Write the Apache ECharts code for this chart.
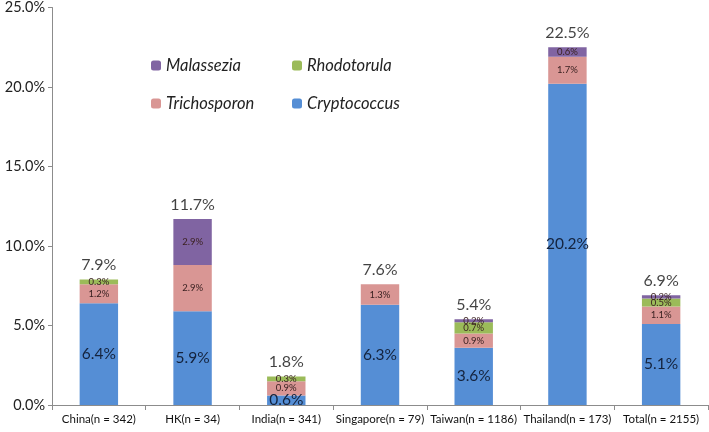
<!DOCTYPE html>
<html><head><meta charset="utf-8">
<script src="https://cdn.jsdelivr.net/npm/echarts@6/dist/echarts.min.js"></script>
<style>html,body{margin:0;padding:0;background:#fff}#c{width:709px;height:432px}</style>
</head><body><div id="c"></div>
<script>
const categories = ['China(n = 342)','HK(n = 34)','India(n = 341)','Singapore(n = 79)','Taiwan(n = 1186)','Thailand(n = 173)','Total(n = 2155)'];
const cryptococcus = [6.4, 5.9, 0.6, 6.3, 3.6, 20.2, 5.1];
const trichosporon = [1.2, 2.9, 0.9, 1.3, 0.9, 1.7, 1.1];
const rhodotorula = [0.3, 0, 0.3, 0, 0.7, 0, 0.5];
const malassezia = [0, 2.9, 0, 0, 0.2, 0.6, 0.2];
const totals = [7.9, 11.7, 1.8, 7.6, 5.4, 22.5, 6.9];
const yTicks = [0, 5, 10, 15, 20, 25];

const FONT = 'Lato';
const fmt = p => p.value ? p.value.toFixed(1) + '%' : '';
const chart = echarts.init(document.getElementById('c'));
function seg(name, data, color, big) {
  return {
    name, type: 'bar', stack: 's', data, barWidth: '41%',
    itemStyle: { color },
    label: { show: true, position: 'inside', formatter: fmt,
      fontFamily: FONT, fontSize: big ? 15.5 : 9.5,
      color: big ? '#14233d' : '#3b2222' }
  };
}
function leg(name, left, top) {
  return { data: [name], left, top, itemWidth: 10, itemHeight: 10, itemGap: 5,
    textStyle: { fontFamily: FONT, fontSize: 16.5, fontStyle: 'italic', color: '#222' } };
}
chart.setOption({
  animation: false,
  textStyle: { fontFamily: FONT },
  legend: [leg('Malassezia', 146, 52), leg('Rhodotorula', 287, 52), leg('Trichosporon', 146, 90), leg('Cryptococcus', 287, 90)],
  grid: { left: 52, right: 1, top: 5, bottom: 27, containLabel: false },
  xAxis: { type: 'category', data: categories,
    axisLine: { lineStyle: { color: '#8c8c8c' } },
    axisTick: { show: true, length: 5, lineStyle: { color: '#8c8c8c' } },
    axisLabel: { fontFamily: FONT, fontSize: 11.5, color: '#111', margin: 8, interval: 0 } },
  yAxis: { type: 'value', min: 0, max: 25, interval: 5,
    axisLine: { show: true, lineStyle: { color: '#8c8c8c' } },
    axisTick: { show: true, length: 4, lineStyle: { color: '#8c8c8c' } },
    splitLine: { show: false },
    axisLabel: { fontFamily: FONT, fontSize: 14.5, color: '#222', margin: 7,
      formatter: v => yTicks.includes(v) ? v.toFixed(1) + '%' : '' } },
  series: [
    seg('Cryptococcus', cryptococcus, '#558ed5', true),
    seg('Trichosporon', trichosporon, '#d99694', false),
    seg('Rhodotorula', rhodotorula, '#9bbb59', false),
    seg('Malassezia', malassezia, '#8064a2', false),
    { name: 'total', type: 'scatter', data: totals, symbolSize: 1, silent: true,
      itemStyle: { color: 'rgba(0,0,0,0)' },
      label: { show: true, position: 'top', distance: 6, formatter: p => p.value.toFixed(1) + '%',
        fontFamily: FONT, fontSize: 16, color: '#111' } }
  ]
});
</script></body></html>
